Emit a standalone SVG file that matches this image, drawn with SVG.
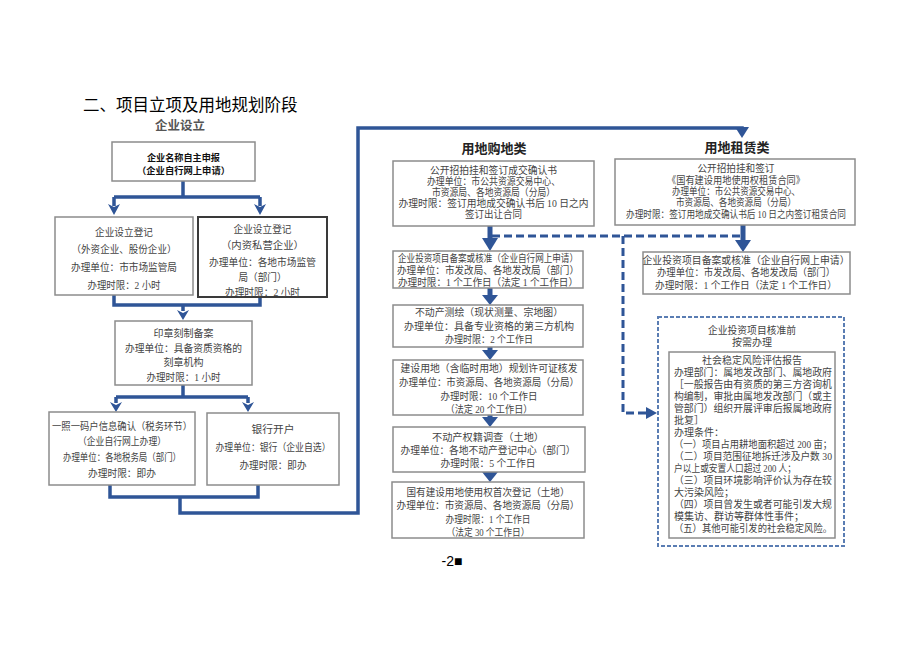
<svg xmlns="http://www.w3.org/2000/svg" width="920" height="651" viewBox="0 0 920 651">
<style>
.box{fill:#fff;stroke:#8c8c8c;stroke-width:1.5}
.dark{stroke:#3a3a3a;stroke-width:2}
.t{font-family:"Liberation Serif","Noto Sans CJK SC",serif;font-size:10px;fill:#444;text-anchor:middle}
.l{text-anchor:start}
.b{font-family:"Noto Sans CJK SC",sans-serif;font-weight:bold;font-size:9px;fill:#111;text-anchor:middle}
.h{font-family:"Noto Sans CJK SC",sans-serif;font-size:13px;font-weight:bold;fill:#222;text-anchor:middle}
.conn{fill:none;stroke:#2F5597;stroke-width:3.5;stroke-linejoin:miter}
.stem{fill:none;stroke:#2F5597;stroke-width:5}
.dash{fill:none;stroke:#2F5597;stroke-width:3;stroke-dasharray:8 4}
.ah{fill:#2F5597}
.outer{fill:#fff;stroke:#5a7db3;stroke-width:2;stroke-dasharray:4 2}
</style>
<rect width="920" height="651" fill="#fff"/>
<text x="83" y="111" style="font-family:'Noto Sans CJK SC',sans-serif;font-size:16.5px;fill:#000">二、项目立项及用地规划阶段</text>
<text x="180" y="130" style="font-family:'Noto Sans CJK SC',sans-serif;font-size:12.5px;font-weight:bold;fill:#555;text-anchor:middle">企业设立</text>

<g id="connectors">
<path class="conn" d="M183,181V197M114,197H260M114,197V206M260,197V206"/>
<path class="conn" d="M114,295V305H260V297M183,305V311"/>
<path class="conn" d="M183,385V397M116,397H248M116,397V403M248,397V403"/>
<path class="conn" d="M110,485V497H258V485M180,497V513H358V128H742V130"/>
<polygon class="ah" points="108,204 114,207 120,204 114,215"/>
<polygon class="ah" points="254,204 260,207 266,204 260,215"/>
<polygon class="ah" points="177,310 183,313 189,310 183,320"/>
<polygon class="ah" points="110,402 116,405 122,402 116,412"/>
<polygon class="ah" points="242,402 248,405 254,402 248,412"/>
<polygon class="ah" points="735,127 749,127 742,138"/>
<path class="stem" d="M490,226V240M490,288V297M490,347V352M490,415V419M490,472V474M743,225V241"/>
<polygon class="ah" points="482,238 498,238 490,251"/>
<polygon class="ah" points="482,295 498,295 490,305"/>
<polygon class="ah" points="482,350 498,350 490,360"/>
<polygon class="ah" points="482,417 498,417 490,427"/>
<polygon class="ah" points="482,472 498,472 490,482"/>
<polygon class="ah" points="735,240 751,240 743,252"/>
<path class="dash" d="M492,236H740M623,236V413H648"/>
<polygon class="ah" points="646,407 657,413 646,419"/>
</g>

<g id="n-name">
<rect class="box" x="112" y="142" width="143" height="39"/>
<text class="b" x="183.5" y="160.5" textLength="73" lengthAdjust="spacingAndGlyphs">企业名称自主申报</text>
<text class="b" x="183.5" y="173.5" textLength="93" lengthAdjust="spacingAndGlyphs">（企业自行网上申请）</text>
</g>
<g id="n-foreign">
<rect class="box" x="55" y="217" width="138" height="78"/>
<text class="t" x="124" y="235.5" textLength="58" lengthAdjust="spacingAndGlyphs">企业设立登记</text>
<text class="t" x="124" y="252.5" textLength="105" lengthAdjust="spacingAndGlyphs">（外资企业、股份企业）</text>
<text class="t" x="124" y="270.5" textLength="106" lengthAdjust="spacingAndGlyphs">办理单位：市市场监管局</text>
<text class="t" x="124" y="288.5" textLength="73" lengthAdjust="spacingAndGlyphs">办理时限：2 小时</text>
</g>
<g id="n-private">
<rect class="box dark" x="198" y="217" width="129" height="80"/>
<text class="t" x="262.5" y="232.5" textLength="58" lengthAdjust="spacingAndGlyphs">企业设立登记</text>
<text class="t" x="262.5" y="248.5" textLength="83" lengthAdjust="spacingAndGlyphs">（内资私营企业）</text>
<text class="t" x="262.5" y="265.5" textLength="107" lengthAdjust="spacingAndGlyphs">办理单位：各地市场监管</text>
<text class="t" x="262.5" y="280.5" textLength="48" lengthAdjust="spacingAndGlyphs">局（部门）</text>
<text class="t" x="262.5" y="295.5" textLength="75" lengthAdjust="spacingAndGlyphs">办理时限：2 小时</text>
</g>
<g id="n-seal">
<rect class="box" x="115" y="321" width="137" height="64"/>
<text class="t" x="183.5" y="336.5" textLength="60" lengthAdjust="spacingAndGlyphs">印章刻制备案</text>
<text class="t" x="183.5" y="351.5" textLength="117" lengthAdjust="spacingAndGlyphs">办理单位：具备资质资格的</text>
<text class="t" x="183.5" y="365.5" textLength="40" lengthAdjust="spacingAndGlyphs">刻章机构</text>
<text class="t" x="183.5" y="380.5" textLength="74" lengthAdjust="spacingAndGlyphs">办理时限：1 小时</text>
</g>
<g id="n-tax">
<rect class="box" x="49" y="412" width="146" height="73"/>
<text class="t" x="122" y="429.5" textLength="140" lengthAdjust="spacingAndGlyphs">一照一码户信息确认（税务环节）</text>
<text class="t" x="122" y="444.5" textLength="88" lengthAdjust="spacingAndGlyphs">（企业自行网上办理）</text>
<text class="t" x="122" y="460.5" textLength="118" lengthAdjust="spacingAndGlyphs">办理单位：各地税务局（部门）</text>
<text class="t" x="122" y="476.5" textLength="68" lengthAdjust="spacingAndGlyphs">办理时限：即办</text>
</g>
<g id="n-bank">
<rect class="box" x="207" y="413" width="132" height="72"/>
<text class="t" x="273" y="432.5" textLength="43" lengthAdjust="spacingAndGlyphs">银行开户</text>
<text class="t" x="273" y="450.5" textLength="115" lengthAdjust="spacingAndGlyphs">办理单位：银行（企业自选）</text>
<text class="t" x="273" y="468.5" textLength="67" lengthAdjust="spacingAndGlyphs">办理时限：即办</text>
</g>

<text class="h" x="494" y="152.5">用地购地类</text>
<g id="n-m1">
<rect class="box" x="393" y="161" width="201" height="65"/>
<text class="t" x="493.5" y="173.5" textLength="127" lengthAdjust="spacingAndGlyphs">公开招拍挂和签订成交确认书</text>
<text class="t" x="493.5" y="184.5" textLength="133" lengthAdjust="spacingAndGlyphs">办理单位：市公共资源交易中心、</text>
<text class="t" x="493.5" y="195.5" textLength="123" lengthAdjust="spacingAndGlyphs">市资源局、各地资源局（分局）</text>
<text class="t" x="493.5" y="206.5" textLength="190" lengthAdjust="spacingAndGlyphs">办理时限：签订用地成交确认书后 10 日之内</text>
<text class="t" x="493.5" y="217.5" textLength="57" lengthAdjust="spacingAndGlyphs">签订出让合同</text>
</g>
<g id="n-m2">
<rect class="box" x="393" y="251" width="190" height="37"/>
<text class="t" x="488" y="261.5" textLength="180" lengthAdjust="spacingAndGlyphs">企业投资项目备案或核准（企业自行网上申请）</text>
<text class="t" x="488" y="273.5" textLength="182" lengthAdjust="spacingAndGlyphs">办理单位：市发改局、各地发改局（部门）</text>
<text class="t" x="488" y="285.5" textLength="180" lengthAdjust="spacingAndGlyphs">办理时限：1 个工作日（法定 1 个工作日）</text>
</g>
<g id="n-m3">
<rect class="box" x="393" y="305" width="190" height="42"/>
<text class="t" x="489" y="315.5" textLength="148" lengthAdjust="spacingAndGlyphs">不动产测绘（现状测量、宗地图）</text>
<text class="t" x="489" y="329.5" textLength="170" lengthAdjust="spacingAndGlyphs">办理单位：具备专业资格的第三方机构</text>
<text class="t" x="489" y="342.5" textLength="88" lengthAdjust="spacingAndGlyphs">办理时限：2 个工作日</text>
</g>
<g id="n-m4">
<rect class="box" x="393" y="360" width="190" height="55"/>
<text class="t" x="489" y="371.5" textLength="177" lengthAdjust="spacingAndGlyphs">建设用地（含临时用地）规划许可证核发</text>
<text class="t" x="489" y="385.5" textLength="180" lengthAdjust="spacingAndGlyphs">办理单位：市资源局、各地资源局（分局）</text>
<text class="t" x="489" y="399.5" textLength="97" lengthAdjust="spacingAndGlyphs">办理时限：10 个工作日</text>
<text class="t" x="489" y="412.5" textLength="87" lengthAdjust="spacingAndGlyphs">（法定 20 个工作日）</text>
</g>
<g id="n-m5">
<rect class="box" x="393" y="427" width="192" height="45"/>
<text class="t" x="488" y="440.5" textLength="112" lengthAdjust="spacingAndGlyphs">不动产权籍调查（土地）</text>
<text class="t" x="488" y="453.5" textLength="175" lengthAdjust="spacingAndGlyphs">办理单位：各地不动产登记中心（部门）</text>
<text class="t" x="488" y="466.5" textLength="95" lengthAdjust="spacingAndGlyphs">办理时限：5 个工作日</text>
</g>
<g id="n-m6">
<rect class="box" x="392" y="482" width="192" height="56"/>
<text class="t" x="488" y="495.5" textLength="163" lengthAdjust="spacingAndGlyphs">国有建设用地使用权首次登记（土地）</text>
<text class="t" x="488" y="508.5" textLength="183" lengthAdjust="spacingAndGlyphs">办理单位：市资源局、各地资源局（分局）</text>
<text class="t" x="488" y="522.5" textLength="85" lengthAdjust="spacingAndGlyphs">办理时限：1 个工作日</text>
<text class="t" x="488" y="535.5" textLength="83" lengthAdjust="spacingAndGlyphs">（法定 30 个工作日）</text>
</g>

<text class="h" x="737" y="151.5">用地租赁类</text>
<g id="n-r1">
<rect class="box" x="615" y="159" width="240" height="66"/>
<text class="t" x="736" y="171.5" textLength="77" lengthAdjust="spacingAndGlyphs">公开招拍挂和签订</text>
<text class="t" x="736" y="183.5" textLength="138" lengthAdjust="spacingAndGlyphs">《国有建设用地使用权租赁合同》</text>
<text class="t" x="736" y="194.5" textLength="128" lengthAdjust="spacingAndGlyphs">办理单位：市公共资源交易中心、</text>
<text class="t" x="736" y="205.5" textLength="120" lengthAdjust="spacingAndGlyphs">市资源局、各地资源局（分局）</text>
<text class="t" x="736" y="217.5" textLength="220" lengthAdjust="spacingAndGlyphs">办理时限：签订用地成交确认书后 10 日之内签订租赁合同</text>
</g>
<g id="n-r2">
<rect class="box" x="643" y="252" width="207" height="42"/>
<text class="t" x="746" y="263.5" textLength="207" lengthAdjust="spacingAndGlyphs">企业投资项目备案或核准（企业自行网上申请）</text>
<text class="t" x="746" y="275.5" textLength="178" lengthAdjust="spacingAndGlyphs">办理单位：市发改局、各地发改局（部门）</text>
<text class="t" x="746" y="288.5" textLength="182" lengthAdjust="spacingAndGlyphs">办理时限：1 个工作日（法定 1 个工作日）</text>
</g>
<g id="n-risk">
<rect class="outer" x="658" y="317" width="186" height="229"/>
<text class="t" x="752" y="333.5" textLength="88" lengthAdjust="spacingAndGlyphs">企业投资项目核准前</text>
<text class="t" x="752" y="345.5" textLength="40" lengthAdjust="spacingAndGlyphs">按需办理</text>
<rect class="box" x="669" y="352" width="166" height="186"/>
<text class="t" x="752" y="363.5" textLength="100" lengthAdjust="spacingAndGlyphs">社会稳定风险评估报告</text>
<text class="t l" x="674" y="375.5" textLength="158" lengthAdjust="spacingAndGlyphs">办理部门：属地发改部门、属地政府</text>
<text class="t l" x="674" y="387.5" textLength="158" lengthAdjust="spacingAndGlyphs">［一般报告由有资质的第三方咨询机</text>
<text class="t l" x="674" y="399.5" textLength="158" lengthAdjust="spacingAndGlyphs">构编制，审批由属地发改部门（或主</text>
<text class="t l" x="674" y="411.5" textLength="158" lengthAdjust="spacingAndGlyphs">管部门）组织开展评审后报属地政府</text>
<text class="t l" x="674" y="423.5">批复］</text>
<text class="t l" x="674" y="435.5">办理条件：</text>
<text class="t l" x="674" y="447.5" textLength="158" lengthAdjust="spacingAndGlyphs">（一）项目占用耕地面积超过 200 亩；</text>
<text class="t l" x="674" y="459.5" textLength="158" lengthAdjust="spacingAndGlyphs">（二）项目范围征地拆迁涉及户数 30</text>
<text class="t l" x="674" y="471.5" textLength="122" lengthAdjust="spacingAndGlyphs">户以上或安置人口超过 200 人；</text>
<text class="t l" x="674" y="483.5" textLength="158" lengthAdjust="spacingAndGlyphs">（三）项目环境影响评价认为存在较</text>
<text class="t l" x="674" y="495.5">大污染风险；</text>
<text class="t l" x="674" y="507.5" textLength="158" lengthAdjust="spacingAndGlyphs">（四）项目曾发生或者可能引发大规</text>
<text class="t l" x="674" y="519.5" textLength="130" lengthAdjust="spacingAndGlyphs">模集访、群访等群体性事件；</text>
<text class="t l" x="674" y="531.5" textLength="158" lengthAdjust="spacingAndGlyphs">（五）其他可能引发的社会稳定风险。</text>
</g>

<text x="452" y="566" style="font-family:'Liberation Sans','DejaVu Sans',sans-serif;font-size:14px;fill:#000;text-anchor:middle">-2■</text>
</svg>
